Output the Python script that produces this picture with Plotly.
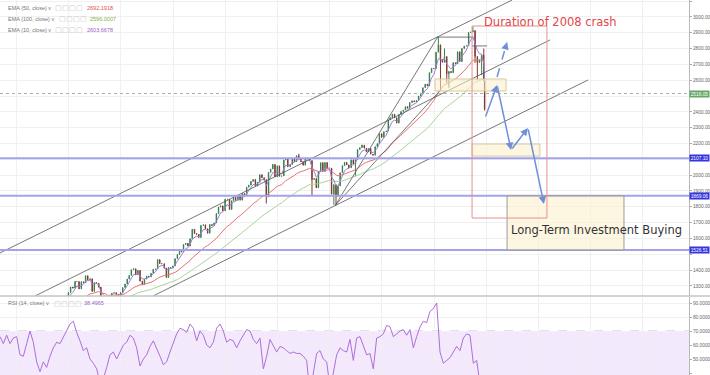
import pandas as pd
import plotly.graph_objects as go

# ---------------- data ----------------
# half-monthly closes, Sep 2009 .. Dec 2018 (mid-month, month-end)
close_vals = [
    1052, 1057, 1096, 1036, 1093, 1096, 1108, 1115,
    1136, 1074, 1075, 1104, 1150, 1169, 1211, 1187, 1136, 1089, 1115, 1031,
    1096, 1102, 1079, 1049, 1125, 1141, 1176, 1183, 1197, 1181, 1236, 1258,
    1293, 1286, 1328, 1327, 1281, 1326, 1320, 1364, 1338, 1345, 1265, 1321,
    1316, 1292, 1179, 1219, 1209, 1131, 1225, 1253, 1257, 1247, 1216, 1258,
    1289, 1312, 1343, 1366, 1402, 1408, 1370, 1398, 1330, 1310, 1343, 1362,
    1357, 1379, 1405, 1407, 1466, 1441, 1440, 1412, 1353, 1416, 1413, 1426,
    1472, 1498, 1519, 1515, 1561, 1569, 1552, 1598, 1658, 1631, 1626, 1606,
    1682, 1686, 1661, 1633, 1688, 1682, 1698, 1757, 1798, 1806, 1775, 1848,
    1848, 1783, 1838, 1859, 1841, 1872, 1842, 1884, 1870, 1924, 1937, 1960,
    1973, 1931, 1955, 2003, 1984, 1972, 1862, 2018, 2039, 2068, 1990, 2059,
    1993, 1995, 2096, 2105, 2053, 2068, 2107, 2086, 2123, 2107, 2084, 2063,
    2108, 2104, 2092, 1972, 1979, 1920, 2024, 2079, 2023, 2080, 2043, 2044,
    1880, 1940, 1865, 1932, 2015, 2060, 2081, 2065, 2047, 2097, 2071, 2099,
    2162, 2174, 2190, 2171, 2147, 2168, 2133, 2126, 2180, 2199, 2262, 2239,
    2275, 2279, 2349, 2364, 2385, 2363, 2329, 2384, 2402, 2412, 2433, 2423,
    2459, 2470, 2464, 2472, 2500, 2519, 2553, 2575, 2565, 2648, 2676, 2674,
    2777, 2824, 2731, 2714, 2750, 2641, 2656, 2648, 2711, 2705, 2780, 2718,
    2801, 2816, 2818, 2902, 2905, 2914, 2750, 2712, 2730, 2760, 2600, 2416,
]
first_open = 1021
bar_high_marks = {"2015-05-31": 2135, "2016-08-15": 2193, "2018-01-31": 2873,
                  "2018-03-15": 2801, "2018-09-30": 2940, "2018-12-15": 2800}
bar_low_marks = {"2011-08-15": 1101, "2011-10-15": 1075, "2014-10-15": 1821,
                 "2015-08-31": 1867, "2016-01-31": 1812, "2016-02-15": 1810,
                 "2016-06-30": 1992, "2018-02-15": 2532, "2018-03-31": 2585,
                 "2018-04-15": 2553, "2018-10-15": 2710, "2018-10-31": 2603,
                 "2018-11-30": 2632, "2018-12-21": 2408}
last_bar_date = "2018-12-21"

rsi_vals = [
    66, 61, 67, 61, 65, 66, 53, 52, 61, 70, 62, 48, 41, 48, 44, 52, 58, 62, 61, 66,
    71, 75, 77, 69, 63, 56, 58, 50, 47, 43, 33, 36, 44, 53, 55, 50, 55, 60, 62, 67,
    65, 58, 45, 50, 53, 59, 63, 58, 52, 46, 48, 55, 62, 68, 72, 71, 69, 75, 72, 63,
    70, 67, 60, 58, 62, 72, 75, 70, 62, 64, 63, 58, 63, 67, 71,
    70, 64, 61, 65, 43, 52, 64, 60, 55, 59, 58, 56, 54, 55, 54, 54, 52, 49, 25, 40,
    54, 56, 50, 48, 30, 40, 53, 58, 56, 55, 64, 49, 65, 66, 59, 53, 54, 43, 65, 66,
    68, 74, 73, 66, 68, 70, 71, 67, 71, 58, 66, 73, 77, 76, 84, 86, 90, 55, 47, 49,
    51, 55, 59, 56, 65, 68, 67, 47, 49, 32, 38.5,
]
rsi_start, rsi_end = "2009-09-08", "2018-12-12"

price_ticks = [1300, 1400, 1500, 1600, 1700, 1800, 1900, 2000, 2100, 2200, 2300,
               2400, 2500, 2600, 2700, 2800, 2900, 3000, 3100]
hidden_ticks = [1500, 2100, 2500]          # covered by the coloured price tags
rsi_ticks = [40, 50, 60, 70, 80, 90]
level_lines = [2107.10, 1869.06, 1526.51]
last_price = 2516.05

trend_lines = [
    (("2009-09-08", 1508), ("2019-07-01", 3107)),
    (("2010-05-11", 1236), ("2020-03-23", 2855)),
    (("2012-08-14", 1236), ("2020-12-14", 2602)),
    (("2016-02-11", 1810), ("2018-01-26", 2873)),
    (("2016-02-11", 1810), ("2018-02-09", 2532)),
    (("2018-01-22", 2873), ("2018-09-24", 2873)),
    (("2018-09-24", 2817), ("2019-01-07", 2817)),
]
zones = [  # (date0, date1, price0, price1)
    ("2018-01-08", "2019-05-20", 2532, 2608),
    ("2018-09-24", "2020-01-12", 2121, 2197),
    ("2019-05-27", "2021-08-22", 1526.51, 1869.06),
]
crash_box = ("2018-09-24", "2020-03-01", 1729, 2943)
path_dates = ["2018-12-24", "2019-03-18", "2019-06-24", "2019-10-20", "2020-02-09"]
path_prices = [2362, 2570, 2159, 2298, 1818]
dash_dates = ["2019-03-18", "2019-05-27"]
dash_prices = [2621, 2842]
crash_label = ("2018-12-03", 2968, "Duration of 2008 crash")
buy_label = ("2019-06-10", 1654, "Long-Term Investment Buying")

legend_rows = [  # label, value, value colour
    ("EMA (50, close) v", "2692.1918", "#e0504e"),
    ("EMA (100, close) v", "2596.0007", "#7cb342"),
    ("EMA (10, close) v", "2603.6678", "#9c5fc8"),
]
rsi_legend = ("RSI (14, close) v", "38.4965", "#9c5fc8")
# EMA lengths are weekly bars; the series above has ~2.17 weeks per bar
weeks_per_bar = 2.17
ema_lengths = {"ema50": 50, "ema100": 100, "ema10": 10}

# ---------------- build ----------------
months = pd.date_range("2009-09-01", "2018-12-01", freq="MS")
bar_dates = []
for m in months:
    bar_dates.append(m + pd.Timedelta(days=14))
    bar_dates.append(m + pd.offsets.MonthEnd(0))
bar_dates[-1] = pd.Timestamp(last_bar_date)
keys = [d.strftime("%Y-%m-%d") for d in bar_dates]

open_vals = [first_open] + close_vals[:-1]
high_vals, low_vals = [], []
for k, o, c in zip(keys, open_vals, close_vals):
    high_vals.append(max(o, c, bar_high_marks.get(k, 0)))
    low_vals.append(min(o, c, bar_low_marks.get(k, 10 ** 6)))

closes = pd.Series(close_vals, dtype=float)
ema = {k: closes.ewm(span=v / weeks_per_bar, adjust=False).mean()
       for k, v in ema_lengths.items()}

rsi_dates = pd.date_range(rsi_start, rsi_end, periods=len(rsi_vals))

W, H = 710, 375
XE = 689 / W
P_BOTTOM = 1 - 296 / H
R_TOP = 1 - 297 / H
x_range = ["2009-09-08", "2022-11-20"]
GRID = "#f0f0f3"
UP, DN = "#3a8150", "#7f3a2c"
FONT = "Liberation Sans"

fig = go.Figure()
fig.add_trace(go.Candlestick(
    x=bar_dates, open=open_vals, high=high_vals, low=low_vals, close=close_vals,
    increasing=dict(line=dict(color=UP, width=1), fillcolor=UP),
    decreasing=dict(line=dict(color=DN, width=1), fillcolor=DN),
    whiskerwidth=0, hoverinfo="skip", showlegend=False, xaxis="x", yaxis="y"))
for k, col in [("ema100", "#a9d49a"), ("ema50", "#e57373"), ("ema10", "#9b7fd4")]:
    fig.add_trace(go.Scatter(x=bar_dates, y=ema[k], mode="lines",
                             line=dict(color=col, width=1), hoverinfo="skip",
                             xaxis="x", yaxis="y"))
for (d0, p0), (d1, p1) in trend_lines:
    fig.add_trace(go.Scatter(x=[d0, d1], y=[p0, p1], mode="lines",
                             line=dict(color="#555555", width=0.8),
                             hoverinfo="skip", xaxis="x", yaxis="y"))
fig.add_trace(go.Scatter(x=dash_dates, y=dash_prices, mode="lines",
                         line=dict(color="#6f8fd8", width=1.5, dash="dash"),
                         hoverinfo="skip", xaxis="x", yaxis="y"))
fig.add_trace(go.Scatter(x=rsi_dates, y=rsi_vals, mode="lines",
                         line=dict(color="#ad6fd8", width=1), hoverinfo="skip",
                         xaxis="x2", yaxis="y2"))

shapes = []
# RSI band
shapes.append(dict(type="rect", xref="paper", yref="y2", x0=0, x1=XE, y0=30, y1=70,
                   fillcolor="#f4e8fd", line=dict(width=0), layer="below"))
shapes.append(dict(type="line", xref="paper", yref="y2", x0=0, x1=XE, y0=70, y1=70,
                   line=dict(color="#d2b3ea", width=1, dash="dash"), layer="below"))
# levels
for lv in level_lines:
    shapes.append(dict(type="line", xref="paper", yref="y", x0=0, x1=XE, y0=lv, y1=lv,
                       line=dict(color="#a3a3ea", width=2)))
shapes.append(dict(type="line", xref="paper", yref="y", x0=0, x1=XE,
                   y0=last_price, y1=last_price,
                   line=dict(color="#9fb89f", width=1, dash="dot")))
for i, (d0, d1, p0, p1) in enumerate(zones):
    shapes.append(dict(type="rect", xref="x", yref="y", x0=d0, x1=d1, y0=p0, y1=p1,
                       fillcolor="rgba(252,240,200,0.55)",
                       line=dict(color="#9a9a9a" if i == 2 else "#d8c8a0", width=1)))
shapes.append(dict(type="rect", xref="x", yref="y", x0=crash_box[0], x1=crash_box[1],
                   y0=crash_box[2], y1=crash_box[3],
                   line=dict(color="#e89090", width=1)))
# pane separator
shapes.append(dict(type="line", xref="paper", yref="paper", x0=0, x1=1,
                   y0=P_BOTTOM, y1=P_BOTTOM, line=dict(color="#c4c4c4", width=1.5)))

ann = []
for i in range(len(path_dates) - 1):
    ann.append(dict(x=path_dates[i + 1], y=path_prices[i + 1], xref="x", yref="y",
                    ax=path_dates[i], ay=path_prices[i], axref="x", ayref="y",
                    text="", showarrow=True, arrowhead=2, arrowsize=1,
                    arrowwidth=1.5, arrowcolor="#6f8fd8"))
ann.append(dict(x=dash_dates[1], y=dash_prices[1], xref="x", yref="y",
                ax=-2, ay=7, text="", showarrow=True, arrowhead=2, arrowsize=1,
                arrowwidth=1.5, arrowcolor="#6f8fd8"))
ann.append(dict(x=crash_label[0], y=crash_label[1], xref="x", yref="y",
                text=crash_label[2], showarrow=False, xanchor="left",
                font=dict(family="DejaVu Sans", size=11.5, color="#e04848")))
ann.append(dict(x=buy_label[0], y=buy_label[1], xref="x", yref="y",
                text=buy_label[2], showarrow=False, xanchor="left",
                font=dict(family="DejaVu Sans", size=11.5, color="#333333")))

def px(xp, yp):
    return xp / W, 1 - yp / H

for row, (lab, val, col) in enumerate(legend_rows):
    yp = 8 + 11 * row
    xv = 85 if row != 1 else 88
    xi = 53 if row != 1 else 57
    for txt, xp, c, sz in [(lab, 6, "#777777", 5.5), ("▢▢▢▢", xi, "#c8c8c8", 6.5),
                           (val, xv, col, 5.5)]:
        x0, y0 = px(xp, yp)
        ann.append(dict(x=x0, y=y0, xref="paper", yref="paper", text=txt,
                        showarrow=False, xanchor="left", yanchor="middle",
                        font=dict(family=FONT, size=sz, color=c)))
for txt, xp, c, sz in [(rsi_legend[0], 6, "#777777", 5.5), ("▢▢▢▢", 52, "#c8c8c8", 6.5),
                       (rsi_legend[1], 82, rsi_legend[2], 5.5)]:
    x0, y0 = px(xp, 303)
    ann.append(dict(x=x0, y=y0, xref="paper", yref="paper", text=txt,
                    showarrow=False, xanchor="left", yanchor="middle",
                    font=dict(family=FONT, size=sz, color=c)))
# price labels on the axis
for lv in level_lines:
    ann.append(dict(x=XE, y=lv, xref="paper", yref="y", text=f"{lv:.2f}",
                    showarrow=False, xanchor="left", yanchor="middle",
                    bgcolor="#3434e0", width=19, height=6, borderpad=0,
                    font=dict(family=FONT, size=4.8, color="white")))
ann.append(dict(x=XE, y=last_price, xref="paper", yref="y", text=f"{last_price:.2f}",
                showarrow=False, xanchor="left", yanchor="middle",
                bgcolor="#62a866", width=19, height=6, borderpad=0,
                font=dict(family=FONT, size=4.8, color="white")))

xcommon = dict(domain=[0, XE], range=x_range, showticklabels=False, showgrid=True,
               gridcolor=GRID, dtick="M12", tick0="2010-01-01", zeroline=False,
               ticks="", showline=False, fixedrange=True)
ycommon = dict(side="right", showgrid=True, gridcolor=GRID, zeroline=False,
               ticks="outside", ticklen=2, tickcolor="#aaaaaa", showline=True,
               linecolor="#b8b8b8", linewidth=1, automargin=False, fixedrange=True,
               tickfont=dict(family=FONT, size=4.8, color="#666666"))

fig.update_layout(
    width=W, height=H, margin=dict(l=0, r=0, t=0, b=0),
    paper_bgcolor="white", plot_bgcolor="white", showlegend=False,
    xaxis=dict(anchor="y", rangeslider=dict(visible=False), **xcommon),
    xaxis2=dict(anchor="y2", matches="x", **xcommon),
    yaxis=dict(anchor="x", domain=[P_BOTTOM, 1], range=[1236, 3107.4],
               tickvals=price_ticks,
               ticktext=["" if v in hidden_ticks else f"{v:.2f}" for v in price_ticks],
               **ycommon),
    yaxis2=dict(anchor="x2", domain=[0, R_TOP], range=[38.6, 94.3],
                tickvals=rsi_ticks, ticktext=[f"{v:.4f}" for v in rsi_ticks],
                **ycommon),
    shapes=shapes, annotations=ann,
)
fig.write_html("out.html", config={"displayModeBar": False},
               post_script="document.body.style.margin='0';document.body.style.padding='0';")
